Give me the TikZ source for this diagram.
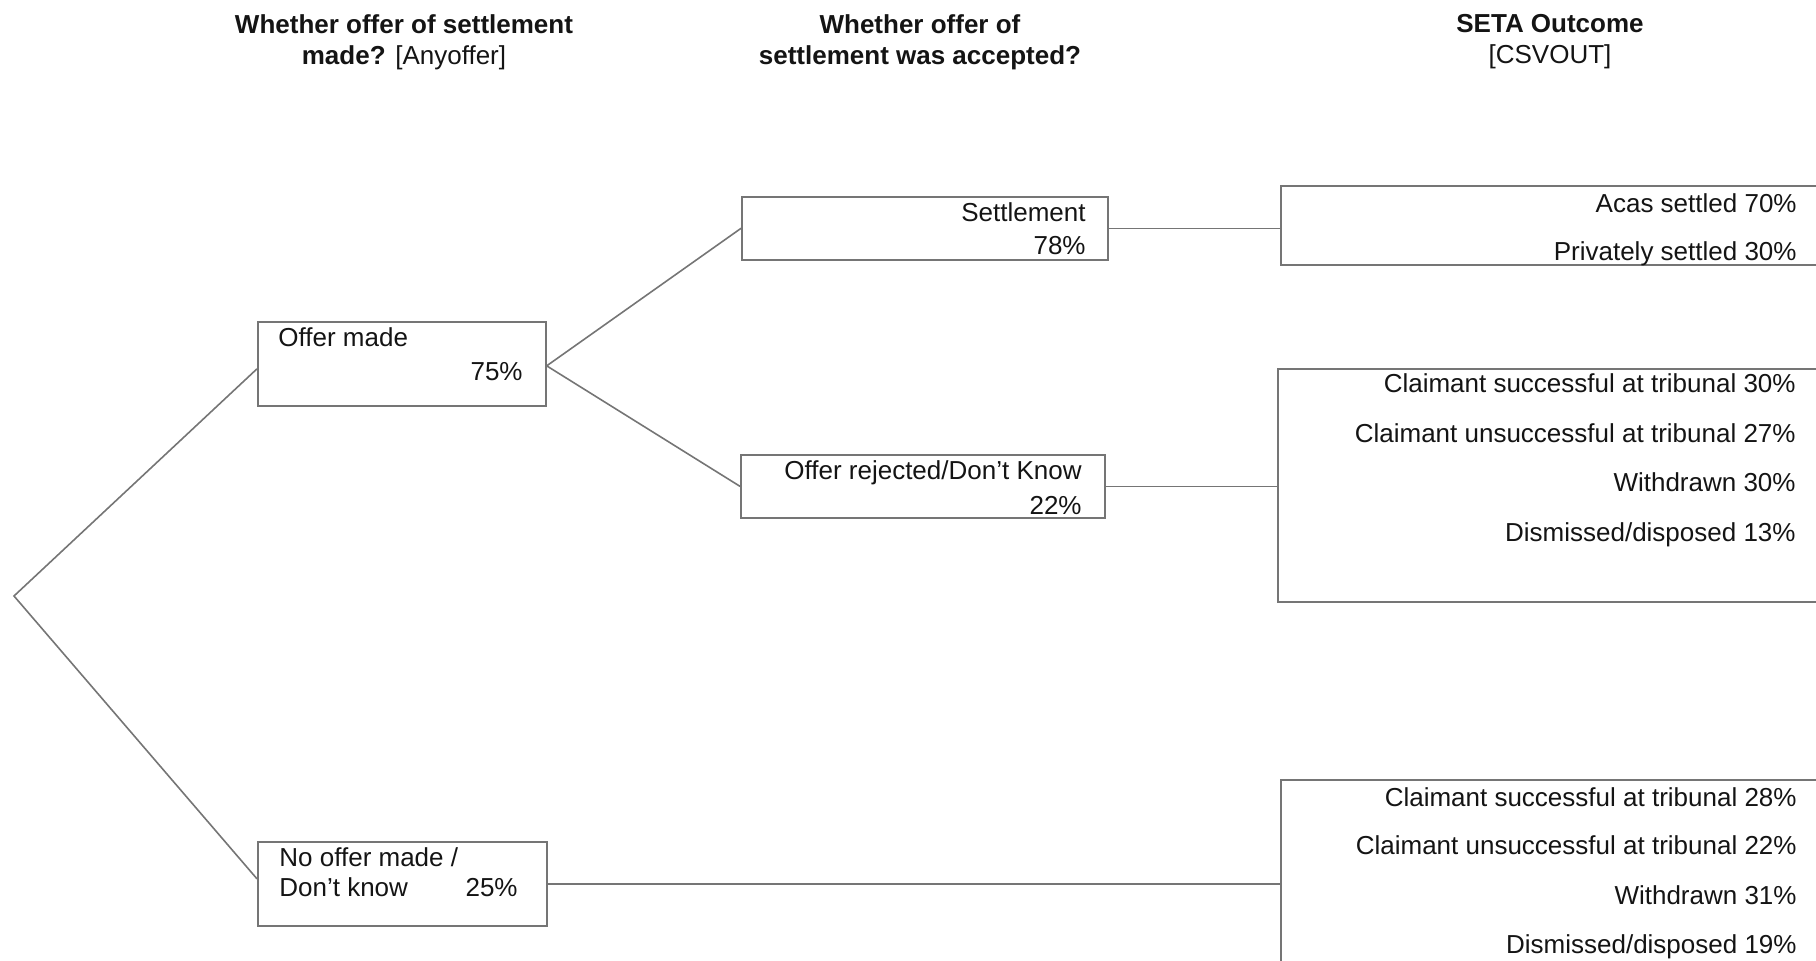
\documentclass[tikz,border=0pt]{standalone}
\usepackage{fontspec}
\setmainfont{Liberation Sans}
\definecolor{linegray}{HTML}{757575}
\definecolor{inkblack}{HTML}{141414}

\begin{document}
\begin{tikzpicture}
[
x=0.5pt, y=-0.5pt,
stagebox/.style={draw=linegray, line width=0.85pt, inner sep=0, anchor=north west},
conn/.style={draw=linegray, line width=0.8pt},
txt/.style={inner sep=0, text=inkblack, font=\fontsize{13}{15}\selectfont},
head/.style={txt, align=center, anchor=north, font=\fontsize{13}{15.5}\selectfont}
]
\useasboundingbox (0,0) rectangle (1816,961);
\clip (0,0) rectangle (1816,961);

% column headings
\node[head] (hAny) at (404,14) {\textbf{Whether offer of settlement}\\\textbf{made?} [Anyoffer]};
\node[head] (hAcc) at (920,14) {\textbf{Whether offer of}\\\textbf{settlement was accepted?}};
\node[head] (hOut) at (1550,14) {\textbf{SETA Outcome}\\{}[CSVOUT]};

% boxes
\node[stagebox, minimum width=144pt, minimum height=42pt] (offer) at (257,321) {};
\node[stagebox, minimum width=144.5pt, minimum height=42pt] (nooffer) at (257,841) {};
\node[stagebox, minimum width=183pt, minimum height=31.5pt] (settle) at (741,196) {};
\node[stagebox, minimum width=182pt, minimum height=31.5pt] (reject) at (740,454) {};
\node[stagebox, minimum width=280pt, minimum height=39.5pt] (acas) at (1280,185) {};
\node[stagebox, minimum width=280pt, minimum height=116.5pt] (clmA) at (1277,368) {};
\node[stagebox, minimum width=280pt, minimum height=100pt] (clmB) at (1280,779) {};

% box texts
\node[txt, anchor=base west] (tOffer) at (278,347) {Offer made};
\node[txt, anchor=base east] (pOffer) at (523,381) {75\%};
\node[txt, anchor=base west] (tNo1) at (279,867) {No offer made /};
\node[txt, anchor=base west] (tNo2) at (279,897) {Don’t know};
\node[txt, anchor=base east] (pNo) at (518,897) {25\%};
\node[txt, anchor=base east] (tSettle) at (1086,222) {Settlement};
\node[txt, anchor=base east] (pSettle) at (1086,255) {78\%};
\node[txt, anchor=base east] (tReject) at (1082,480) {Offer rejected/Don’t Know};
\node[txt, anchor=base east] (pReject) at (1082,515) {22\%};

\node[txt, anchor=base east] (oAcas) at (1797,213) {Acas settled 70\%};
\node[txt, anchor=base east] (oPriv) at (1797,261) {Privately settled 30\%};

\node[txt, anchor=base east] (oA1) at (1796,393) {Claimant successful at tribunal 30\%};
\node[txt, anchor=base east] (oA2) at (1796,443) {Claimant unsuccessful at tribunal 27\%};
\node[txt, anchor=base east] (oA3) at (1796,492) {Withdrawn 30\%};
\node[txt, anchor=base east] (oA4) at (1796,542) {Dismissed/disposed 13\%};

\node[txt, anchor=base east] (oB1) at (1797,807) {Claimant successful at tribunal 28\%};
\node[txt, anchor=base east] (oB2) at (1797,855) {Claimant unsuccessful at tribunal 22\%};
\node[txt, anchor=base east] (oB3) at (1797,905) {Withdrawn 31\%};
\node[txt, anchor=base east] (oB4) at (1797,954) {Dismissed/disposed 19\%};

% branches
\coordinate (root) at (14,596);
\draw[conn] ([yshift=-2.5pt]offer.west) -- (root) -- ([yshift=2.5pt]nooffer.west);
\draw[conn] (settle.west) -- ([yshift=-1pt]offer.east) -- (reject.west);
\draw[conn] (settle.east) -- (settle.east -| acas.west);
\draw[conn] (reject.east) -- (reject.east -| clmA.west);
\draw[conn] (nooffer.east) -- (nooffer.east -| clmB.west);
\end{tikzpicture}
\end{document}
